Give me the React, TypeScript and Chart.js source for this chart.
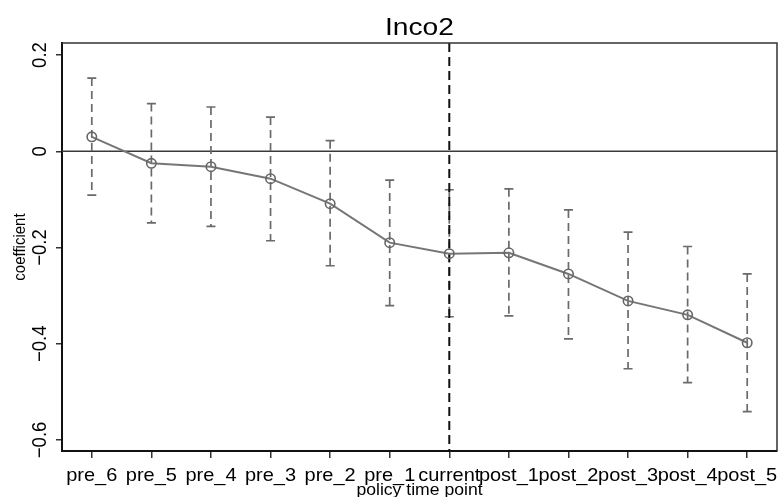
import React, { useEffect, useRef } from "react";
import { Chart, registerables } from "chart.js";

Chart.register(...registerables);

const categories = ["pre_6", "pre_5", "pre_4", "pre_3", "pre_2", "pre_1", "current", "post_1", "post_2", "post_3", "post_4", "post_5"];
const coefs = [0.030, -0.025, -0.032, -0.057, -0.109, -0.190, -0.213, -0.211, -0.255, -0.311, -0.340, -0.398];
const upper = [0.152, 0.099, 0.092, 0.071, 0.022, -0.060, -0.080, -0.078, -0.122, -0.168, -0.198, -0.255];
const lower = [-0.091, -0.149, -0.156, -0.186, -0.238, -0.321, -0.344, -0.342, -0.390, -0.452, -0.481, -0.541];
const yTickValues = [-0.6, -0.4, -0.2, 0, 0.2];
const yTickLabels = ["\u22120.6", "\u22120.4", "\u22120.2", "0", "0.2"];
const chartTitle = "Inco2";
const xTitle = "policy time point";
const yTitle = "coefficient";
const refCategory = "current";
const yMin = -0.623;
const yMax = 0.225;

const FONT = '"Liberation Sans", Arial, Helvetica, sans-serif';

function drawText(ctx: CanvasRenderingContext2D, text: string, x: number, y: number, size: number, stretch: number, rotated: boolean) {
  ctx.save();
  ctx.translate(x, y);
  if (rotated) {
    ctx.rotate(-Math.PI / 2);
    ctx.scale(1, stretch);
  } else {
    ctx.scale(stretch, 1);
  }
  ctx.font = `${size}px ${FONT}`;
  ctx.fillStyle = "#000";
  ctx.textAlign = "center";
  ctx.textBaseline = "alphabetic";
  ctx.fillText(text, 0, 0);
  ctx.restore();
}

const coefPlugin = {
  id: "coefPlugin",
  beforeDatasetsDraw(chart: any) {
    const ctx: CanvasRenderingContext2D = chart.ctx;
    const xs = chart.scales.x;
    const ys = chart.scales.y;
    const area = chart.chartArea;
    ctx.save();
    // zero line
    const y0 = ys.getPixelForValue(0);
    ctx.strokeStyle = "#3a3a3a";
    ctx.lineWidth = 1.5;
    ctx.beginPath();
    ctx.moveTo(area.left, y0);
    ctx.lineTo(area.right, y0);
    ctx.stroke();
    // error bars
    ctx.strokeStyle = "#6a6a6a";
    ctx.lineWidth = 1.7;
    for (let i = 0; i < categories.length; i++) {
      const x = xs.getPixelForValue(i);
      const yu = ys.getPixelForValue(upper[i]);
      const yl = ys.getPixelForValue(lower[i]);
      ctx.setLineDash([8, 5]);
      ctx.beginPath();
      ctx.moveTo(x, yu);
      ctx.lineTo(x, yl);
      ctx.stroke();
      ctx.setLineDash([]);
      ctx.beginPath();
      ctx.moveTo(x - 4.5, yu);
      ctx.lineTo(x + 4.5, yu);
      ctx.moveTo(x - 4.5, yl);
      ctx.lineTo(x + 4.5, yl);
      ctx.stroke();
    }
    // vertical reference line
    const xr = xs.getPixelForValue(categories.indexOf(refCategory));
    ctx.strokeStyle = "#111";
    ctx.lineWidth = 2;
    ctx.setLineDash([9, 5]);
    ctx.beginPath();
    ctx.moveTo(xr, area.top);
    ctx.lineTo(xr, area.bottom);
    ctx.stroke();
    ctx.setLineDash([]);
    ctx.restore();
  },
  afterDraw(chart: any) {
    const ctx: CanvasRenderingContext2D = chart.ctx;
    const xs = chart.scales.x;
    const ys = chart.scales.y;
    const area = chart.chartArea;
    ctx.save();
    // top and right frame
    ctx.strokeStyle = "#333";
    ctx.lineWidth = 1.5;
    ctx.beginPath();
    ctx.moveTo(area.left, area.top);
    ctx.lineTo(area.right, area.top);
    ctx.lineTo(area.right, area.bottom);
    ctx.stroke();
    ctx.restore();
    const cx = (area.left + area.right) / 2;
    drawText(ctx, chartTitle, cx, 35, 24.5, 1.15, false);
    for (let i = 0; i < categories.length; i++) {
      drawText(ctx, categories[i], xs.getPixelForValue(i), 481, 18.5, 1.08, false);
    }
    for (let i = 0; i < yTickValues.length; i++) {
      drawText(ctx, yTickLabels[i], 46, ys.getPixelForValue(yTickValues[i]), 18.5, 1.1, true);
    }
    drawText(ctx, xTitle, cx, 495, 16, 1.1, false);
    drawText(ctx, yTitle, 25, (area.top + area.bottom) / 2, 15, 1.1, true);
  },
};

export default function App() {
  const canvasRef = useRef<HTMLCanvasElement | null>(null);

  useEffect(() => {
    const canvas = canvasRef.current;
    if (!canvas) return;
    const chart = new Chart(canvas, {
      type: "line",
      data: {
        labels: categories,
        datasets: [
          {
            data: coefs,
            borderColor: "#767676",
            borderWidth: 2,
            pointRadius: 4.7,
            pointHoverRadius: 4.7,
            pointBorderWidth: 1.6,
            pointBorderColor: "#666",
            pointBackgroundColor: "rgba(0,0,0,0)",
            tension: 0,
          },
        ],
      },
      options: {
        responsive: false,
        animation: false,
        devicePixelRatio: 1,
        events: [],
        layout: { autoPadding: false, padding: { top: 43, right: 1, left: 0, bottom: 0 } },
        plugins: { legend: { display: false }, tooltip: { enabled: false }, title: { display: false } },
        scales: {
          x: {
            type: "category",
            offset: true,
            grid: { display: true, drawOnChartArea: false, drawTicks: true, tickLength: 7, color: "#333", lineWidth: 1.5 },
            border: { display: true, color: "#111", width: 2 },
            ticks: { display: false, autoSkip: false },
            afterFit: (s: any) => {
              s.height = 46;
            },
          },
          y: {
            type: "linear",
            min: yMin,
            max: yMax,
            grid: { display: true, drawOnChartArea: false, drawTicks: true, tickLength: 6, color: "#333", lineWidth: 1.5 },
            border: { display: true, color: "#111", width: 2 },
            ticks: { display: false },
            afterBuildTicks: (s: any) => {
              s.ticks = yTickValues.map((v) => ({ value: v }));
            },
            afterFit: (s: any) => {
              s.width = 62;
            },
          },
        },
      },
      plugins: [coefPlugin],
    });
    return () => chart.destroy();
  }, []);

  return (
    <div style={{ position: "absolute", left: 0, top: 0, width: 778, height: 497, background: "#fff" }}>
      <canvas ref={canvasRef} width={778} height={497} style={{ display: "block" }} />
    </div>
  );
}
